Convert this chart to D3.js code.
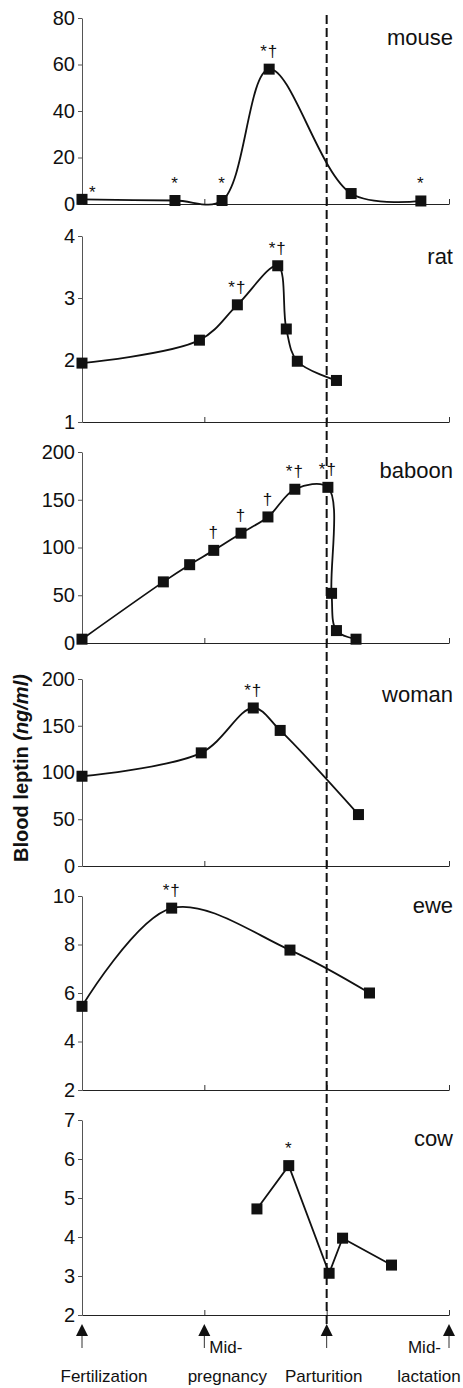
<!DOCTYPE html>
<html>
<head>
<meta charset="utf-8">
<script src="https://cdn.jsdelivr.net/npm/d3@7"></script>
<style>
  body { margin: 0; background: #fff; }
  text { font-family: "Liberation Sans", Arial, sans-serif; fill: #111; }
</style>
</head>
<body>
<svg width="463" height="1388"></svg>
<script>
// stage axis: 0 fertilization, 1 mid-pregnancy, 2 parturition, 3 mid-lactation
const stages = [0, 1, 2, 3];
const species = ["mouse", "rat", "baboon", "woman", "ewe", "cow"];

const mouseX = [0, 0.76, 1.145, 1.53, 2.2, 2.77];
const mouseY = [2, 1.5, 1.5, 58, 4.5, 1.3];
const mouseMarks = ["*", "*", "*", "*†", "", "*"];

const ratX = [0, 0.96, 1.27, 1.60, 1.67, 1.76, 2.08];
const ratY = [1.95, 2.32, 2.89, 3.52, 2.5, 1.98, 1.67];
const ratMarks = ["", "", "*†", "*†", "", "", ""];

const baboonX = [0, 0.665, 0.88, 1.077, 1.30, 1.52, 1.74, 2.01, 2.04, 2.08, 2.24];
const baboonY = [4, 64, 82, 97, 115, 132, 161, 163, 52, 13, 4];
const baboonMarks = ["", "", "", "†", "†", "†", "*†", "*†", "", "", ""];

const womanX = [0, 0.975, 1.40, 1.62, 2.26];
const womanY = [96, 121, 169, 145, 55];
const womanMarks = ["", "", "*†", "", ""];

const eweX = [0, 0.733, 1.70, 2.35];
const eweY = [5.45, 9.5, 7.77, 6.0];
const eweMarks = ["", "*†", "", ""];

const cowX = [1.43, 1.69, 2.02, 2.13, 2.53];
const cowY = [4.72, 5.83, 3.07, 3.97, 3.28];
const cowMarks = ["", "*", "", "", ""];

const yDomains = [[0, 80], [1, 4], [0, 200], [0, 200], [2, 10], [2, 7]];
const yTicks = [
    [0, 20, 40, 60, 80],
    [1, 2, 3, 4],
    [0, 50, 100, 150, 200],
    [0, 50, 100, 150, 200],
    [2, 4, 6, 8, 10],
    [2, 3, 4, 5, 6, 7]
];

// layout
const panelTop = [18, 236, 452, 679, 896, 1120];
const panelBottom = [204, 422, 643, 866, 1090, 1315];
const speciesY = [45, 264, 478, 702, 913, 1146];

const series = [
    {x: mouseX, y: mouseY, marks: mouseMarks, smooth: true},
    {x: ratX, y: ratY, marks: ratMarks, smooth: true},
    {x: baboonX, y: baboonY, marks: baboonMarks, smooth: true},
    {x: womanX, y: womanY, marks: womanMarks, smooth: true},
    {x: eweX, y: eweY, marks: eweMarks, smooth: true},
    {x: cowX, y: cowY, marks: cowMarks, smooth: false}
];

const svg = d3.select("svg");
const x = d3.scaleLinear().domain([0, 3]).range([82, 449]);

series.forEach(function(s, i) {
    const y = d3.scaleLinear().domain(yDomains[i]).range([panelBottom[i], panelTop[i]]);
    const g = svg.append("g");

    // y axis
    const ya = g.append("g")
        .attr("transform", "translate(" + x(0) + ",0)")
        .call(d3.axisLeft(y).tickValues(yTicks[i]).tickFormat(d3.format("d"))
            .tickSize(4).tickSizeOuter(0).tickPadding(3));
    ya.select(".domain").attr("stroke", "#555");
    ya.selectAll(".tick line").attr("stroke", "#555");
    ya.selectAll(".tick text")
        .style("font-family", "Liberation Sans, Arial, sans-serif")
        .style("font-size", "20px")
        .attr("fill", "#111");

    // x axis (ticks point upward, no labels)
    const xa = g.append("g")
        .attr("transform", "translate(0," + panelBottom[i] + ")")
        .call(d3.axisBottom(x).tickValues([1, 2, 3]).tickSize(-5).tickSizeOuter(0).tickFormat(""));
    xa.select(".domain").attr("stroke", "#222").attr("stroke-width", 1.2);
    xa.selectAll(".tick line").attr("stroke", "#333");

    const pts = s.x.map((v, k) => ({x: v, y: s.y[k], m: s.marks[k]}));

    const line = d3.line()
        .x(d => x(d.x))
        .y(d => y(d.y))
        .curve(s.smooth ? d3.curveCatmullRom.alpha(0.5) : d3.curveLinear);

    g.append("path")
        .datum(pts)
        .attr("d", line)
        .attr("fill", "none")
        .attr("stroke", "#111")
        .attr("stroke-width", 1.8);

    g.selectAll("rect.pt")
        .data(pts)
        .enter()
        .append("rect")
        .attr("class", "pt")
        .attr("x", d => x(d.x) - 5.5)
        .attr("y", d => y(d.y) - 5.5)
        .attr("width", 11)
        .attr("height", 11)
        .attr("fill", "#111");

    g.selectAll("text.mark")
        .data(pts.filter(d => d.m))
        .enter()
        .append("text")
        .attr("class", "mark")
        .attr("x", d => d.x === 0 ? x(d.x) + 7 : x(d.x))
        .attr("y", d => d.x === 0 ? y(d.y) - 1 : y(d.y) - 12)
        .attr("text-anchor", d => d.x === 0 ? "start" : "middle")
        .style("font-size", "17px")
        .style("letter-spacing", "1px")
        .text(d => d.m);

    g.append("text")
        .attr("x", 453)
        .attr("y", speciesY[i])
        .attr("text-anchor", "end")
        .style("font-size", "22px")
        .text(species[i]);
});

// parturition line
svg.append("line")
    .attr("x1", x(2)).attr("x2", x(2))
    .attr("y1", 15).attr("y2", 1326)
    .attr("stroke", "#111")
    .attr("stroke-width", 2)
    .attr("stroke-dasharray", "9,4");

// stage arrows
const arrows = svg.selectAll("g.arrow")
    .data(stages)
    .enter()
    .append("g")
    .attr("class", "arrow")
    .attr("transform", d => "translate(" + x(d) + ",0)");
arrows.append("path")
    .attr("d", "M0,1324L6,1336L-6,1336Z")
    .attr("fill", "#111");
arrows.append("line")
    .attr("y1", 1336).attr("y2", 1348)
    .attr("stroke", "#333")
    .attr("stroke-width", 1);

// stage labels
const stageText = [
    {t: "Fertilization", s: 0, dx: 22, y: 1382, a: "middle"},
    {t: "Mid-", s: 1, dx: 5, y: 1353, a: "start"},
    {t: "pregnancy", s: 1, dx: 23, y: 1382, a: "middle"},
    {t: "Parturition", s: 2, dx: -3, y: 1382, a: "middle"},
    {t: "Mid-", s: 3, dx: -8, y: 1353, a: "end"},
    {t: "lactation", s: 3, dx: -20, y: 1382, a: "middle"}
];
svg.selectAll("text.stage")
    .data(stageText)
    .enter()
    .append("text")
    .attr("class", "stage")
    .attr("x", d => x(d.s) + d.dx)
    .attr("y", d => d.y)
    .attr("text-anchor", d => d.a)
    .style("font-size", "17px")
    .text(d => d.t);

// y label
const yl = svg.append("text")
    .attr("transform", "translate(28,768) rotate(-90)")
    .attr("text-anchor", "middle")
    .style("font-size", "20px")
    .style("font-weight", "bold");
yl.append("tspan").text("Blood leptin ");
yl.append("tspan").style("font-style", "italic").text("(ng/ml)");
</script>
</body>
</html>
